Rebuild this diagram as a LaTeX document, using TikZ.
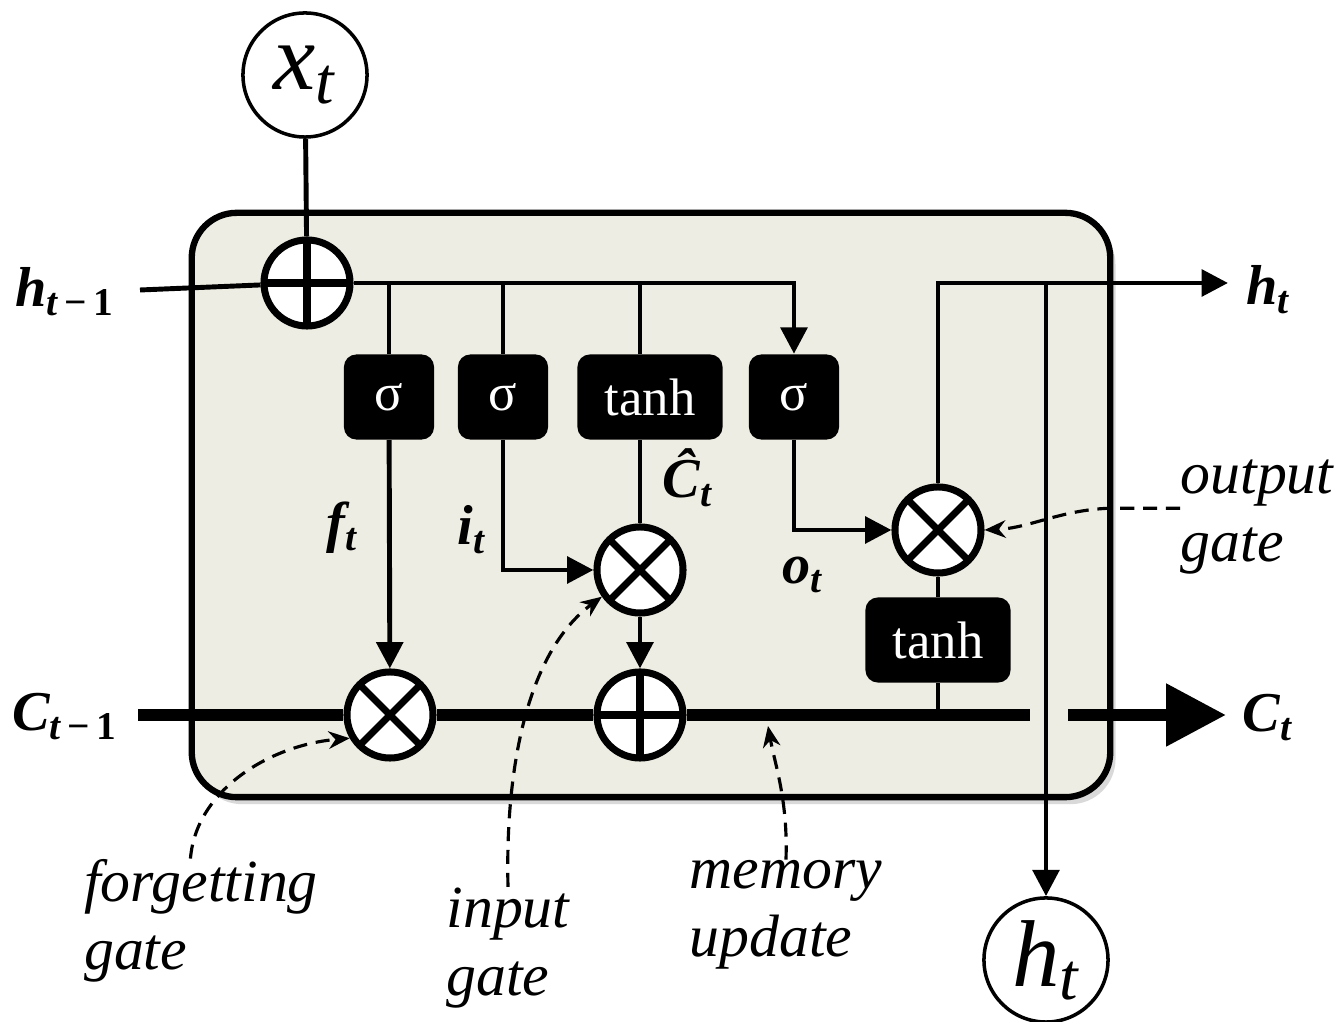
\documentclass[tikz,border=0pt]{standalone}
\usepackage{fontspec}
\setmainfont{Liberation Serif}
\usepackage{xcolor}
\definecolor{lstmCell}{RGB}{238, 237, 227}
\definecolor{lstmInk}{RGB}{0, 0, 0}
\usetikzlibrary{
    arrows.meta,
    positioning,
    shadows,
    calc
}

\begin{document}
\begin{tikzpicture}[
    x=0.01cm, y=-0.01cm,
    cellNode/.style={
        rectangle, rounded corners=12.8pt,
        draw=lstmInk, line width=1.8pt, fill=lstmCell,
        minimum width=9.18cm, minimum height=5.84cm,
        drop shadow={opacity=0.3, shadow xshift=1.5pt, shadow yshift=-2pt}
    },
    gateNode/.style={
        rectangle, rounded corners=3.5pt,
        fill=lstmInk, text=white, font=\fontsize{15}{18}\selectfont,
        minimum width=0.9cm, minimum height=0.85cm, inner sep=0pt
    },
    wideGate/.style={gateNode, minimum width=1.45cm},
    opNode/.style={
        circle, draw=lstmInk, line width=2pt, fill=white,
        minimum size=0.86cm, inner sep=0pt
    },
    mulNode/.style={opNode, path picture={
        \draw[line width=2pt] (path picture bounding box.north west) -- (path picture bounding box.south east)
            (path picture bounding box.north east) -- (path picture bounding box.south west);}
    },
    addNode/.style={opNode, path picture={
        \draw[line width=2pt] (path picture bounding box.north) -- (path picture bounding box.south)
            (path picture bounding box.west) -- (path picture bounding box.east);}
    },
    ioNode/.style={
        circle, draw=lstmInk, line width=1pt, fill=white,
        minimum size=1.24cm, inner sep=0pt, font=\fontsize{27}{30}\selectfont\itshape
    },
    varLabel/.style={font=\fontsize{16}{18}\selectfont\bfseries\itshape, inner sep=1pt},
    noteText/.style={font=\fontsize{17}{19.5}\selectfont\itshape, align=left, inner sep=0pt},
    wire/.style={line width=1.4pt, draw=lstmInk},
    wireArrow/.style={wire, -{Triangle[length=7.5pt, width=7.5pt]}},
    cellLine/.style={line width=3.4pt, draw=lstmInk},
    noteArrow/.style={
        line width=0.9pt, dash pattern=on 4pt off 2.5pt,
        -{Stealth[length=6pt, width=5pt]}
    }
]
    \useasboundingbox (0,0) rectangle (1344,1022);

    % Cell body
    \node[cellNode] (cell) at (651,505) {};

    % Input and output circles
    \node[ioNode] (xt) at (305,75) {x\textsubscript{t}};
    \node[ioNode] (htOut) at (1046,960) {h\textsubscript{t}};

    % Gates
    \node[addNode] (addX) at (307,283) {};
    \node[gateNode] (sigF) at (389,397) {σ};
    \node[gateNode] (sigI) at (503,397) {σ};
    \node[wideGate] (tanhC) at (650,397) {tanh};
    \node[gateNode] (sigO) at (794,397) {σ};
    \node[mulNode] (mulI) at (640,570) {};
    \node[mulNode] (mulF) at (390,715) {};
    \node[addNode] (addC) at (640,715) {};
    \node[mulNode] (mulO) at (938,530) {};
    \node[wideGate] (tanhH) at (938,640) {tanh};

    % Labels
    \node[varLabel] (hPrev) at (65,292) {h\textsubscript{t\,\textup{−\,1}}};
    \node[varLabel] (cPrev) at (65,717) {C\textsubscript{t\,\textup{−\,1}}};
    \node[varLabel] (hNext) at (1268,290) {h\textsubscript{t}};
    \node[varLabel] (cNext) at (1268,718) {C\textsubscript{t}};
    \node[varLabel] (fLab) at (342,528) {f\textsubscript{t}};
    \node[varLabel] (iLab) at (472,530) {i\textsubscript{t}};
    \node[varLabel] (cHat) at (688,478) {\^{C}\textsubscript{t}};
    \node[varLabel] (oLab) at (803,575) {o\textsubscript{t}};

    \coordinate (hIn) at (140,290);
    \coordinate (hEnd) at (1228,283);
    \coordinate (cIn) at (138,715);
    \coordinate (cGapL) at (1030,715);
    \coordinate (cGapR) at (1068,715);
    \coordinate (cEnd) at (1226,715);
    \coordinate (memPt) at (768,726);

    % Hidden path
    \draw[wire] (xt) -- (addX);
    \draw[wire] (hIn) -- (addX);
    \draw[wireArrow] (addX) -| (sigO);
    \foreach \g in {sigF, sigI}
        \draw[wire] (\g |- addX) -- (\g);
    \draw[wire] (mulI |- addX) -- (mulI |- tanhC.north);
    \draw[wire] (mulI |- tanhC.south) -- (mulI);
    \draw[wireArrow] (sigF) -- (mulF);
    \draw[wireArrow] (sigI) |- (mulI);
    \draw[wireArrow] (mulI) -- (addC);
    \draw[wireArrow] (sigO) |- (mulO);
    \draw[wire] (tanhH) -- (mulO);
    \draw[wire] (tanhH) -- (tanhH |- addC);
    \draw[wireArrow] (mulO) |- (hEnd);
    \draw[wireArrow] (htOut |- hEnd) -- (htOut);

    % Cell state
    \draw[cellLine] (cIn) -- (mulF);
    \draw[cellLine] (mulF) -- (addC) -- (cGapL);
    \draw[cellLine, -{Triangle[length=17pt, width=17pt]}] (cGapR) -- (cEnd);

    % Notes
    \node[noteText] (forgetNote) at (201,921) {forgetting\\gate};
    \node[noteText] (inputNote) at (508,948) {input\\gate};
    \node[noteText] (memNote) at (786,915) {memory\\update};
    \node[noteText, anchor=west] (outNote) at (1180,517) {output\\gate};

    \draw[noteArrow] ([xshift=-3pt]forgetNote.north) .. controls (196,790) and (270,745) .. (mulF.210);
    \draw[noteArrow] (inputNote.north) .. controls (505,760) and (530,650) .. (mulI.215);
    \draw[noteArrow] (memNote.north) .. controls (788,800) and (775,765) .. (memPt);
    \draw[noteArrow] ([yshift=2.5pt]outNote.west) -- ++(-70,0) .. controls (1060,510) and (1030,528) .. (mulO.east);

\end{tikzpicture}
\end{document}
